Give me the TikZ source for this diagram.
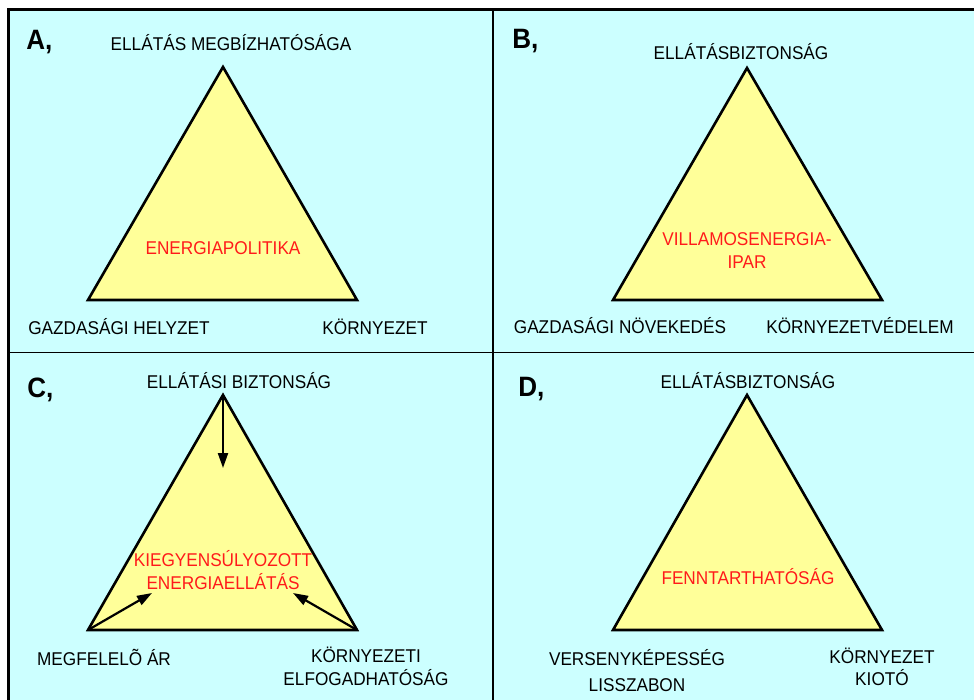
\documentclass[tikz,border=0pt]{standalone}
\usepackage{fontspec}
\setmainfont[FakeStretch=0.93]{Liberation Sans}
\usetikzlibrary{arrows.meta}
\definecolor{panelcyan}{HTML}{CCFFFF}
\definecolor{triyellow}{HTML}{FFFF99}
\definecolor{hubred}{HTML}{FF1A1A}
\begin{document}
\begin{tikzpicture}[x=1pt,y=-1pt,line width=2.6pt,
  every node/.style={font=\fontsize{18.5}{23}\selectfont,inner sep=0pt,align=center,anchor=base},
  corner/.style={font=\fontsize{28}{30}\selectfont\bfseries,anchor=base west},
  hub/.style={text=hubred},
  tri/.style={draw=black,fill=triyellow,line join=miter},
  push/.style={line width=2.2pt,-{Triangle[length=15pt,width=10pt]}}]
\useasboundingbox (0,0) rectangle (974,700);
\clip (0,0) rectangle (974,700);
% frame and panels
\draw[fill=panelcyan,line width=3pt] (8,9.5) rectangle (990,720);
\draw[line width=1.6pt] (493,9.5) -- (493,720);
\draw[line width=1.6pt] (8,352.5) -- (990,352.5);
% A
\coordinate (Atop) at (223,67);
\coordinate (Aleft) at (88,300);
\coordinate (Aright) at (357,300);
\draw[tri] (Atop) -- (Aleft) -- (Aright) -- cycle;
\node[corner] (Alab) at (25,50) {A,};
\node (Atitle) at (231,51) {ELLÁTÁS MEGBÍZHATÓSÁGA};
\node[hub] (Ahub) at (223,255) {ENERGIAPOLITIKA};
\node (Aeco) at (119,335) {GAZDASÁGI HELYZET};
\node (Aenv) at (375,335) {KÖRNYEZET};
% B
\coordinate (Btop) at (747,68);
\coordinate (Bleft) at (613,300);
\coordinate (Bright) at (882,300);
\draw[tri] (Btop) -- (Bleft) -- (Bright) -- cycle;
\node[corner] (Blab) at (511,49) {B,};
\node (Btitle) at (741,60) {ELLÁTÁSBIZTONSÁG};
\node[hub] (Bhub) at (747,269) {VILLAMOSENERGIA-\\IPAR};
\node (Beco) at (620,334) {GAZDASÁGI NÖVEKEDÉS};
\node (Benv) at (860,334) {KÖRNYEZETVÉDELEM};
% C
\coordinate (Ctop) at (223,395);
\coordinate (Cleft) at (88,630);
\coordinate (Cright) at (357,630);
\coordinate (Cdown) at (223,468);
\coordinate (Cin1) at (152,593);
\coordinate (Cin2) at (293,593);
\draw[tri] (Ctop) -- (Cleft) -- (Cright) -- cycle;
\draw[push] (Ctop) -- (Cdown);
\draw[push] (Cleft) -- (Cin1);
\draw[push] (Cright) -- (Cin2);
\node[corner] (Clab) at (26,397) {C,};
\node (Ctitle) at (239,388) {ELLÁTÁSI BIZTONSÁG};
\node[hub] (Chub) at (223,589) {KIEGYENSÚLYOZOTT\\ENERGIAELLÁTÁS};
\node (Ceco) at (104,665) {MEGFELELÕ ÁR};
\node (Cenv) at (366,685) {KÖRNYEZETI\\ELFOGADHATÓSÁG};
% D
\coordinate (Dtop) at (747,395);
\coordinate (Dleft) at (613,630);
\coordinate (Dright) at (882,630);
\draw[tri] (Dtop) -- (Dleft) -- (Dright) -- cycle;
\node[corner] (Dlab) at (517,396) {D,};
\node (Dtitle) at (748,388) {ELLÁTÁSBIZTONSÁG};
\node[hub] (Dhub) at (748,584) {FENNTARTHATÓSÁG};
\node (Deco) at (637,691) {VERSENYKÉPESSÉG\\[3pt]LISSZABON};
\node (Denv) at (882,685) {KÖRNYEZET\\[-1pt]KIOTÓ};
\end{tikzpicture}
\end{document}
